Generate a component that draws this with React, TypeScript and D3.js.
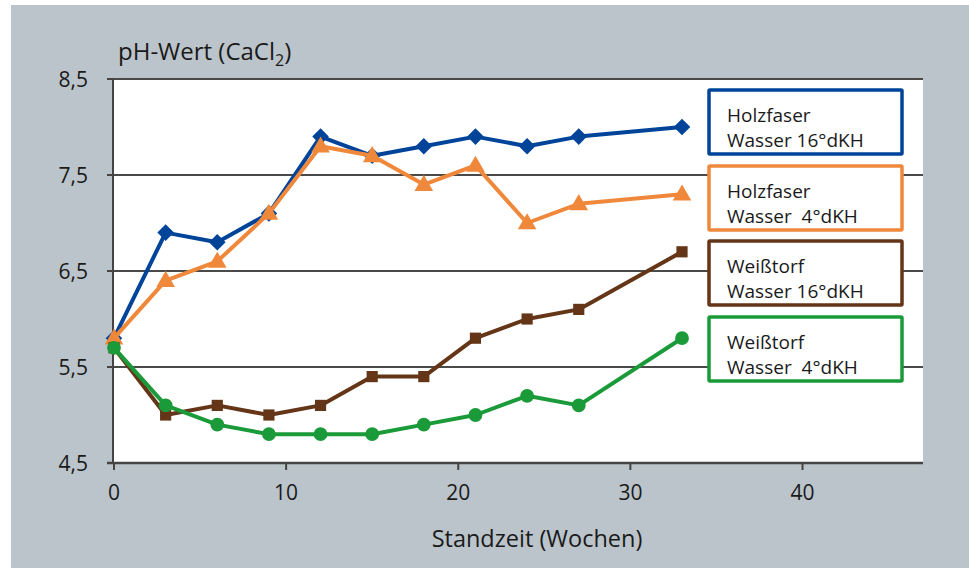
import React from "react";
import * as d3 from "d3";

const weeks = [0, 3, 6, 9, 12, 15, 18, 21, 24, 27, 33];
const holz16 = [5.8, 6.9, 6.8, 7.1, 7.9, 7.7, 7.8, 7.9, 7.8, 7.9, 8.0];
const holz4 = [5.8, 6.4, 6.6, 7.1, 7.8, 7.7, 7.4, 7.6, 7.0, 7.2, 7.3];
const weiss16 = [5.7, 5.0, 5.1, 5.0, 5.1, 5.4, 5.4, 5.8, 6.0, 6.1, 6.7];
const weiss4 = [5.7, 5.1, 4.9, 4.8, 4.8, 4.8, 4.9, 5.0, 5.2, 5.1, 5.8];
const yTicks = [4.5, 5.5, 6.5, 7.5, 8.5];
const xTicks = [0, 10, 20, 30, 40];
const legendLine1 = ["Holzfaser", "Holzfaser", "Weißtorf", "Weißtorf"];
const legendLine2 = ["Wasser 16°dKH", "Wasser  4°dKH", "Wasser 16°dKH", "Wasser  4°dKH"];

const W = 969;
const H = 568;
const left = 114, right = 923, top = 79, bottom = 463;
const font = "'Open Sans', 'Noto Sans', sans-serif";

const series = [
  { values: holz16, color: "#00449a", marker: "diamond" },
  { values: holz4, color: "#f0883b", marker: "triangle" },
  { values: weiss16, color: "#643516", marker: "square" },
  { values: weiss4, color: "#1a9a38", marker: "circle" },
];

export default function App() {
  const x = d3.scaleLinear().domain([0, 47]).range([left, right]);
  const y = d3.scaleLinear().domain([4.5, 8.5]).range([bottom, top]);
  const line = d3
    .line<[number, number]>()
    .x((d) => x(d[0]))
    .y((d) => y(d[1]));

  const symbolFor = (m: string) => {
    if (m === "diamond") return d3.symbol().type(d3.symbolDiamond2).size(175)();
    if (m === "triangle") return d3.symbol().type(d3.symbolTriangle).size(150)();
    if (m === "square") return d3.symbol().type(d3.symbolSquare).size(125)();
    return d3.symbol().type(d3.symbolCircle).size(150)();
  };

  const legendY = [90, 166, 241, 317];
  const legendH = 64;

  return (
    <svg
      width={W}
      height={H}
      style={{ position: "absolute", left: 0, top: 0, fontFamily: font }}
    >
      <rect x={0} y={0} width={W} height={H} fill="#ffffff" />
      <rect x={11} y={5} width={W - 11} height={H - 5} fill="#bac4ca" />
      <rect x={left} y={top} width={right - left} height={bottom - top} fill="#ffffff" />

      {/* gridlines */}
      {yTicks.slice(1).map((t) => (
        <line key={t} x1={left} x2={right} y1={y(t)} y2={y(t)} stroke="#4a4a4a" strokeWidth={2} />
      ))}
      {/* y axis */}
      <line x1={left - 1} x2={left - 1} y1={top} y2={bottom + 1} stroke="#444" strokeWidth={2} />
      {yTicks.map((t) => (
        <g key={t}>
          <line x1={left - 7} x2={left} y1={y(t)} y2={y(t)} stroke="#444" strokeWidth={2} />
          <text x={88} y={y(t)} dy="0.36em" textAnchor="end" fontSize={21} fill="#1a1a1a">
            {String(t).replace(".", ",")}
          </text>
        </g>
      ))}
      {/* x axis */}
      <line x1={left - 7} x2={right} y1={bottom} y2={bottom} stroke="#444" strokeWidth={2.5} />
      {xTicks.map((t) => (
        <g key={t}>
          <line x1={x(t)} x2={x(t)} y1={bottom} y2={bottom + 7} stroke="#444" strokeWidth={2} />
          <text x={x(t)} y={500} textAnchor="middle" fontSize={21} fill="#1a1a1a">
            {t}
          </text>
        </g>
      ))}
      <text x={537} y={547} textAnchor="middle" fontSize={23.5} fill="#1a1a1a">
        Standzeit (Wochen)
      </text>
      <text x={118} y={60} fontSize={24} fill="#1a1a1a">
        pH-Wert (CaCl
        <tspan fontSize={16} dy={6}>2</tspan>
        <tspan dy={-6}>)</tspan>
      </text>

      {/* series */}
      {series.map((s, i) => {
        const pts = weeks.map((w, j) => [w, s.values[j]] as [number, number]);
        return (
          <g key={i}>
            <path d={line(pts) || ""} fill="none" stroke={s.color} strokeWidth={4} strokeLinejoin="round" />
            {pts.map((p, j) => (
              <path
                key={j}
                d={symbolFor(s.marker) || ""}
                transform={`translate(${x(p[0])},${y(p[1]) + (s.marker === "triangle" ? 1 : 0)})`}
                fill={s.color}
              />
            ))}
          </g>
        );
      })}

      {/* legend */}
      {series.map((s, i) => (
        <g key={i}>
          <rect
            x={709}
            y={legendY[i]}
            width={193}
            height={legendH}
            fill="#ffffff"
            stroke={s.color}
            strokeWidth={3.5}
            rx={1}
          />
          <text x={727} y={legendY[i] + 32} fontSize={19} fill="#1a1a1a">
            {legendLine1[i]}
          </text>
          <text x={727} y={legendY[i] + 57} fontSize={19} fill="#1a1a1a" style={{ whiteSpace: "pre" }}>
            {legendLine2[i]}
          </text>
        </g>
      ))}
    </svg>
  );
}
